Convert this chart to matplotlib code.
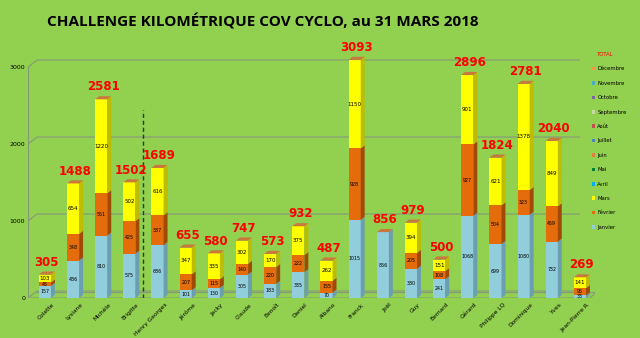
import matplotlib.pyplot as plt
import numpy as np
from matplotlib.patches import Polygon, Patch
from matplotlib.transforms import ScaledTranslation

# cumulative km per rider, by month
riders = ["Colette", "Lysiane", "Michèle", "Brigitte", "Henry Georges", "Jérôme",
          "Jacky", "Claude", "Benoît", "Daniel", "Albano", "Franck", "Joël", "Guy",
          "Bernard", "Gérard", "Philippe LQ", "Dominique", "Yves", "Jean-Pierre R"]
janvier = [157, 486, 810, 575, 686, 101, 130, 305, 183, 335, 70, 1015, 856, 380,
           241, 1068, 699, 1080, 732, 33]
fevrier = [45, 348, 551, 425, 387, 207, 115, 140, 220, 222, 155, 928, 0, 205,
           108, 927, 504, 323, 459, 95]
mars = [103, 654, 1220, 502, 616, 347, 335, 302, 170, 375, 262, 1150, 0, 394,
        151, 901, 621, 1378, 849, 141]
months = ["Janvier", "Février", "Mars", "Avril", "Mai", "Juin", "Juillet", "Août",
          "Septembre", "Octobre", "Novembre", "Décembre"]
month_colors = ["#92cddc", "#e46c0a", "#ffff00", "#00b0f0", "#00803a", "#e0803a",
                "#4f81bd", "#c0504d", "#c9d8a8", "#8064a2", "#4bacc6", "#f79646"]
yticks = [0, 1000, 2000, 3000]

bg = "#92d050"
side_colors = ["#6a9fb0", "#a04a06", "#bdbd00"]
top_color = "#c8783c"

fig = plt.figure(figsize=(6.4, 3.38), dpi=100, facecolor=bg)
ax = fig.add_axes([0.04375, 0.1183, 0.8866, 0.7485])
ax.set_facecolor("none")
ax.set_xlim(-0.6, 19.55)
ax.set_ylim(0, 3286)
for s in ax.spines.values():
    s.set_visible(False)

x = np.arange(len(riders))
series = [np.array(janvier), np.array(fevrier), np.array(mars)]
totals = sum(series)

# depth of the fake 3D: bars and back wall
ddx, ddy = 0.14, 40
wdx, wdy = 0.32, 91

# back wall gridlines and floor
grid_c = "#85997a"
for v in yticks:
    ax.plot([-0.6, -0.6 + wdx, 18.98], [v, v + wdy, v + wdy], color=grid_c,
            lw=0.8, zorder=1)
ax.plot([-0.6, -0.6], [0, 3000], color=grid_c, lw=0.8, zorder=1)
ax.plot([-0.6, 19.35, 19.35 + 0.22, -0.6 + wdx], [0, 0, 70, 70],
        color=grid_c, lw=0.8, zorder=1)

# stacked bars with side and top faces
bottom = np.zeros(len(riders))
width = 0.43
for i, vals in enumerate(series):
    bars = ax.bar(x, vals, width, bottom=bottom, color=month_colors[i],
                  zorder=3, linewidth=0)
    for r, v in zip(bars, vals):
        if v == 0:
            continue
        x1 = r.get_x() + r.get_width()
        y0, y1 = r.get_y(), r.get_y() + r.get_height()
        ax.add_patch(Polygon([(x1, y0), (x1 + ddx, y0 + ddy), (x1 + ddx, y1 + ddy),
                              (x1, y1)], closed=True, color=side_colors[i],
                             lw=0, zorder=3))
        fs = 4 if i == 2 else 3.4
        ax.text(r.get_x() + r.get_width() / 2, y0 + v / 2, str(v),
                ha="center", va="center", fontsize=fs, color="black", zorder=5)
    bottom = bottom + vals

for xi, t in zip(x, totals):
    x0 = xi - width / 2
    ax.add_patch(Polygon([(x0, t), (x0 + width, t), (x0 + width + ddx, t + ddy),
                          (x0 + ddx, t + ddy)], closed=True, color=top_color,
                         lw=0, zorder=3))
    ax.annotate(str(t), (xi + ddx / 2, t + ddy), xytext=(0, 2),
                textcoords="offset points", ha="center", va="bottom",
                fontsize=8.5, fontweight="bold", color="#ff0000", zorder=6)

# separator after Brigitte
ax.plot([3.5, 3.5], [0, 2440], color="#2b3a2b", lw=1, ls=(0, (3, 2)), zorder=2)

ax.set_yticks(yticks)
ax.set_yticklabels([str(v) for v in yticks], fontsize=4.5)
ax.set_xticks(x)
ax.set_xticklabels(riders, fontsize=4.2, rotation=45, ha="right",
                   rotation_mode="anchor")
ax.tick_params(length=0, pad=2)
for lbl in ax.get_xticklabels():
    lbl.set_transform(lbl.get_transform() + ScaledTranslation(5 / 72, -1 / 72,
                                                              fig.dpi_scale_trans))

handles = [Patch(facecolor="none", edgecolor="none", label="TOTAL")]
handles += [Patch(facecolor=c, edgecolor="none", label=m)
            for m, c in reversed(list(zip(months, month_colors)))]
leg = fig.legend(handles=handles, loc="upper left", bbox_to_anchor=(0.917, 0.86),
                 frameon=False, fontsize=3.8, handlelength=0.7, handleheight=0.7,
                 handletextpad=0.4, labelspacing=1.78)
leg.get_texts()[0].set_color("#ff0000")

fig.text(0.41, 0.935, "CHALLENGE KILOMÉTRIQUE COV CYCLO, au 31 MARS 2018",
         ha="center", va="center", fontsize=11, fontweight="bold",
         family="Open Sans", color="black")

fig.savefig("out.png", dpi=100, facecolor=bg)
